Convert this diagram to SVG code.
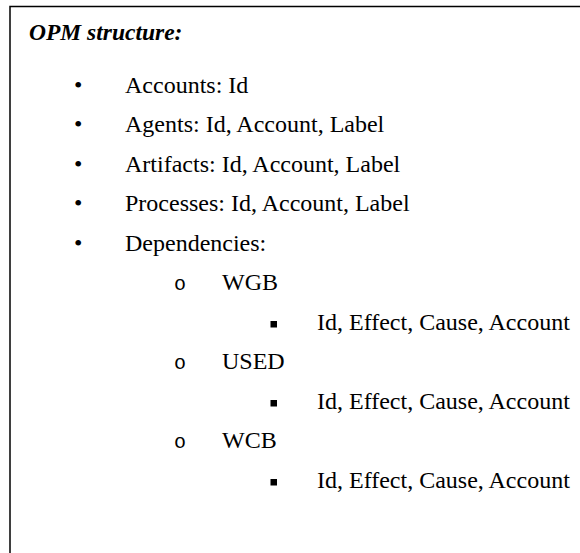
<svg xmlns="http://www.w3.org/2000/svg" width="580" height="553" viewBox="0 0 580 553">
<style>
text{font-family:'Liberation Serif','Times New Roman','DejaVu Serif',serif;font-size:24px;fill:#000}
.t{font-weight:bold;font-style:italic;font-size:23.5px}
.o{font-family:'Liberation Mono','Courier New',monospace;font-size:20px}
.frame{fill:none;stroke:#000;stroke-width:1.5}
</style>
<rect width="580" height="553" fill="#fff"/>
<path class="frame" d="M10,553 V6.5 H580"/>
<g id="title"><text class="t" x="29" y="40">OPM structure:</text></g>
<g id="accounts"><text x="74" y="93">•</text><text x="125" y="93">Accounts: Id</text></g>
<g id="agents"><text x="74" y="132">•</text><text x="125" y="132">Agents: Id, Account, Label</text></g>
<g id="artifacts"><text x="74" y="172">•</text><text x="125" y="172">Artifacts: Id, Account, Label</text></g>
<g id="processes"><text x="74" y="211">•</text><text x="125" y="211">Processes: Id, Account, Label</text></g>
<g id="dependencies"><text x="74" y="251">•</text><text x="125" y="251">Dependencies:</text></g>
<g id="wgb"><text class="o" x="174" y="290">o</text><text x="222" y="290">WGB</text></g>
<g id="wgb-fields"><rect x="270.5" y="321" width="6.5" height="6.5"/><text x="317" y="330">Id, Effect, Cause, Account</text></g>
<g id="used"><text class="o" x="174" y="369">o</text><text x="222" y="369">USED</text></g>
<g id="used-fields"><rect x="270.5" y="400" width="6.5" height="6.5"/><text x="317" y="409">Id, Effect, Cause, Account</text></g>
<g id="wcb"><text class="o" x="174" y="448">o</text><text x="222" y="448">WCB</text></g>
<g id="wcb-fields"><rect x="270.5" y="479" width="6.5" height="6.5"/><text x="317" y="488">Id, Effect, Cause, Account</text></g>
</svg>
